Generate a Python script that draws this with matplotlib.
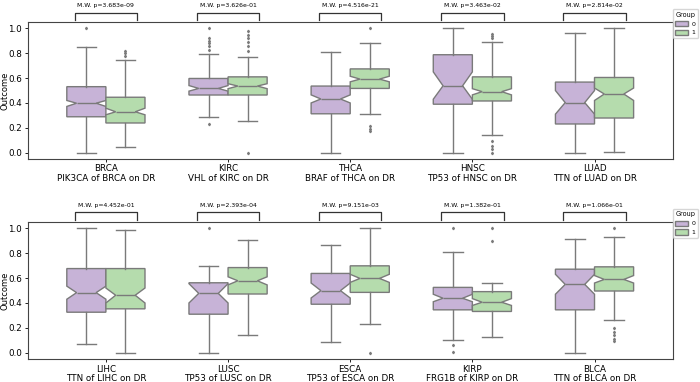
import matplotlib
matplotlib.use("Agg")
from matplotlib import pyplot as plt
from matplotlib.patches import Patch

# categorías y textos
cancers = ["BRCA", "KIRC", "THCA", "HNSC", "LUAD", "LIHC", "LUSC", "ESCA", "KIRP", "BLCA"]
genes = ["PIK3CA", "VHL", "BRAF", "TP53", "TTN", "TTN", "TP53", "TP53", "FRG1B", "TTN"]
pvals = ["3.683e-09", "3.626e-01", "4.516e-21", "3.463e-02", "2.814e-02",
         "4.452e-01", "2.393e-04", "9.151e-03", "1.382e-01", "1.066e-01"]

# estadísticos del grupo 0
lo0 = [0.0, 0.284, 0.0, 0.0, 0.0, 0.072, 0.0, 0.085, 0.106, 0.0]
q1_0 = [0.289, 0.464, 0.313, 0.390, 0.231, 0.326, 0.310, 0.390, 0.345, 0.345]
med0 = [0.398, 0.517, 0.432, 0.538, 0.403, 0.483, 0.477, 0.499, 0.438, 0.549]
q3_0 = [0.531, 0.597, 0.536, 0.788, 0.568, 0.676, 0.562, 0.637, 0.525, 0.671]
hi0 = [0.854, 0.796, 0.809, 1.0, 0.960, 1.0, 0.698, 0.867, 0.809, 0.915]
cilo0 = [0.372, 0.495, 0.400, 0.430, 0.310, 0.430, 0.400, 0.440, 0.410, 0.470]
cihi0 = [0.420, 0.540, 0.465, 0.650, 0.500, 0.535, 0.555, 0.560, 0.470, 0.630]
fl0 = [[1.0], [1.0, 0.92, 0.90, 0.88, 0.86, 0.83, 0.233], [], [], [],
       [], [1.0], [], [1.0, 0.06, 0.01], []]

# estadísticos del grupo 1
lo1 = [0.045, 0.257, 0.310, 0.146, 0.008, 0.0, 0.146, 0.233, 0.125, 0.260]
q1_1 = [0.239, 0.464, 0.517, 0.416, 0.279, 0.353, 0.472, 0.485, 0.332, 0.496]
med1 = [0.329, 0.536, 0.592, 0.491, 0.472, 0.462, 0.578, 0.597, 0.406, 0.589]
q3_1 = [0.446, 0.610, 0.674, 0.610, 0.605, 0.676, 0.684, 0.698, 0.491, 0.690]
hi1 = [0.743, 0.769, 0.886, 0.888, 1.0, 0.987, 0.907, 1.0, 0.557, 0.928]
cilo1 = [0.305, 0.515, 0.570, 0.465, 0.420, 0.400, 0.545, 0.565, 0.380, 0.560]
cihi1 = [0.358, 0.555, 0.615, 0.515, 0.520, 0.520, 0.610, 0.630, 0.435, 0.620]
fl1 = [[0.82, 0.80, 0.78], [0.976, 0.95, 0.92, 0.89, 0.86, 0.82, 0.0],
       [1.0, 0.217, 0.194, 0.172], [0.955, 0.94, 0.925, 0.093, 0.053, 0.027, 0.0], [],
       [], [], [0.0], [1.0, 0.894], [1.0, 0.199, 0.17, 0.14, 0.11, 0.093]]

c0 = "#c7b3d7"
c1 = "#b5dcad"
edge = "#7a7a7a"

def stats(i, lo, q1, med, q3, hi, cilo, cihi, fl):
    return dict(whislo=lo[i], q1=q1[i], med=med[i], q3=q3[i], whishi=hi[i],
                cilo=cilo[i], cihi=cihi[i], fliers=fl[i])

fig = plt.figure(figsize=(7, 3.82), dpi=100)
axes = [fig.add_axes([0.0396, 0.584, 0.9214, 0.358]),
        fig.add_axes([0.0396, 0.060, 0.9214, 0.359])]

w = 0.32
for r, ax in enumerate(axes):
    idx = range(r * 5, r * 5 + 5)
    for k, i in enumerate(idx):
        for g, (pars, col) in enumerate([((lo0, q1_0, med0, q3_0, hi0, cilo0, cihi0, fl0), c0),
                                         ((lo1, q1_1, med1, q3_1, hi1, cilo1, cihi1, fl1), c1)]):
            pos = k - w / 2 if g == 0 else k + w / 2
            ax.bxp([stats(i, *pars)], positions=[pos], widths=w, shownotches=True,
                   patch_artist=True, manage_ticks=False,
                   boxprops=dict(facecolor=col, edgecolor=edge, linewidth=1.0),
                   whiskerprops=dict(color=edge, linewidth=1.0),
                   capprops=dict(color=edge, linewidth=1.0),
                   medianprops=dict(color=edge, linewidth=1.0),
                   flierprops=dict(marker="d", markersize=1.3, markerfacecolor=edge,
                                   markeredgecolor=edge, linestyle="none"))
        # corchete con p-valor de Mann-Whitney
        ax.plot([k - 0.255, k - 0.255, k + 0.255, k + 0.255], [1.068, 1.127, 1.127, 1.068],
                color="#333333", lw=0.9, clip_on=False)
        ax.text(k, 1.16, "M.W. p=" + pvals[i], ha="center", va="bottom", fontsize=4.4)
    ax.set_xlim(-0.64, 4.64)
    ax.set_ylim(-0.05, 1.05)
    ax.set_xticks(range(5))
    ax.set_xticklabels([cancers[i] + "\n" + genes[i] + " of " + cancers[i] + " on DR" for i in idx],
                       fontsize=6.3, linespacing=1.05)
    ax.set_yticks([0.0, 0.2, 0.4, 0.6, 0.8, 1.0])
    ax.set_yticklabels(["0.0", "0.2", "0.4", "0.6", "0.8", "1.0"], fontsize=6.3)
    ax.tick_params(length=2.5, width=0.6, pad=1.5)
    ax.set_ylabel("Outcome", fontsize=6.0)
    ax.yaxis.set_label_coords(-0.029, 0.5)
    for s in ax.spines.values():
        s.set_linewidth(0.8)
        s.set_color("#444444")
    ax.legend(handles=[Patch(facecolor=c0, edgecolor=edge, label="0"),
                       Patch(facecolor=c1, edgecolor=edge, label="1")],
              title="Group", fontsize=4.5, title_fontsize=4.7, loc="upper left",
              bbox_to_anchor=(1.0, 1.095), borderaxespad=0, frameon=True,
              handlelength=2.0, handleheight=0.9, handletextpad=0.6, borderpad=0.4)

fig.savefig("out.png", dpi=100)
